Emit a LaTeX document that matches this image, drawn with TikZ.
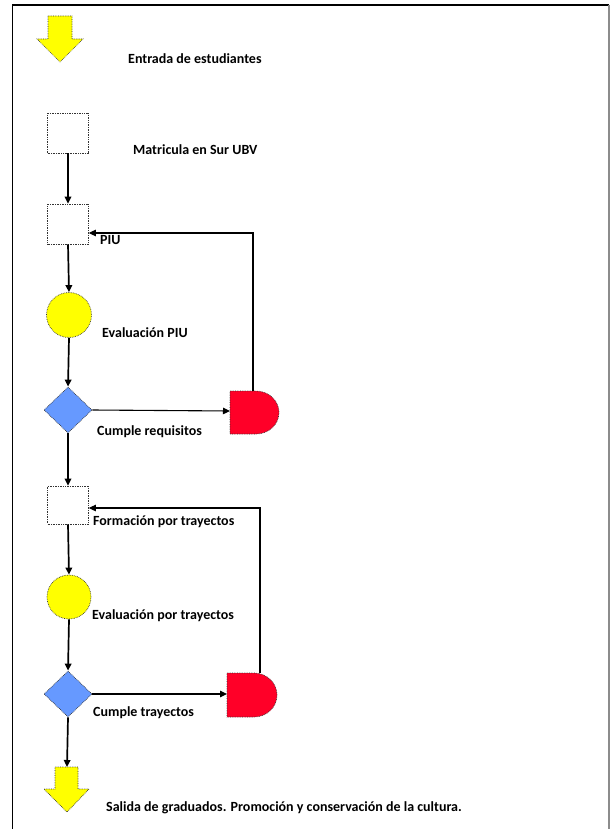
\documentclass[tikz,border=0pt]{standalone}
\usepackage{fontspec}
\setmainfont{Carlito}
\usetikzlibrary{arrows.meta,shapes.geometric}

\definecolor{flowyellow}{RGB}{255,255,0}
\definecolor{flowblue}{RGB}{102,153,255}
\definecolor{flowred}{RGB}{255,0,40}

\tikzset{
  outline/.style={draw=black!80, line width=0.7pt, densely dotted},
  stepbox/.style={outline, fill=white, minimum width=41pt, minimum height=40pt, inner sep=0pt},
  evalcircle/.style={outline, fill=flowyellow, circle, minimum size=45pt, inner sep=0pt},
  decision/.style={outline, fill=flowblue, diamond, minimum width=48pt, minimum height=46pt, inner sep=0pt},
  label/.style={anchor=west, inner sep=0pt, font=\fontsize{14}{16}\selectfont\bfseries},
  flow/.style={line width=1.7pt, -{Triangle[length=7pt,width=6.5pt]}},
  loop/.style={line width=1.1pt, -{Triangle[length=7pt,width=6.5pt]}},
}

\begin{document}
\begin{tikzpicture}[x=1pt, y=-1pt]
\useasboundingbox (0,0) rectangle (611,829);

% page frame, open at the bottom
\draw[black, line width=1.2pt] (12.5,829) -- (12.5,5) -- (609,5);
\draw[black!45, line width=1.5pt] (609,5) -- (609,829);

% entry arrow
\path[outline, fill=flowyellow] (48,16) -- (72,16) -- (72,39) -- (83,39) -- (60,62)
  -- (37,39) -- (48,39) -- cycle;
\node[label] (tentry) at (128,59) {Entrada de estudiantes};

% enrolment and initial programme
\node[stepbox] (s1) at (68,133) {};
\node[label] (t1) at (133,150) {Matricula en Sur UBV};
\node[stepbox] (s2) at (68,224) {};
\node[label] (t2) at (100,240) {PIU};
\node[evalcircle] (c1) at (69,315) {};
\node[label] (t3) at (102,333) {Evaluación PIU};
\node[decision] (d1) at (68,410) {};
\node[label] (t4) at (97,432) {Cumple requisitos};

% delay shape for the first loop
\path[outline, fill=flowred] (230,391) -- (256,391)
  arc[start angle=-90, end angle=90, x radius=23, y radius=21.5]
  -- (230,434) -- cycle;
\coordinate (r1) at (230,411);
\coordinate (r1top) at (253,391);

% training by trayectos
\node[stepbox, minimum height=38pt] (s3) at (68,505) {};
\node[label] (t5) at (93,522) {Formación por trayectos};
\node[evalcircle, minimum size=44pt] (c2) at (69,597) {};
\node[label] (t6) at (92,616) {Evaluación por trayectos};
\node[decision] (d2) at (68,694) {};
\node[label] (t7) at (93,713) {Cumple trayectos};

% delay shape for the second loop
\path[outline, fill=flowred] (227,673) -- (254,673)
  arc[start angle=-90, end angle=90, x radius=23, y radius=22]
  -- (227,717) -- cycle;
\coordinate (r2) at (227,694);
\coordinate (r2top) at (260,673);

% exit arrow
\path[outline, fill=flowyellow] (55,767) -- (78,767) -- (78,789) -- (89,789) -- (67,812)
  -- (44,789) -- (55,789) -- cycle;
\coordinate (exit) at (67,767);
\node[label] (texit) at (106,808) {Salida de graduados. Promoción y conservación de la cultura.};

% main flow
\draw[flow] (s1.south) -- (s2.north);
\draw[flow] (s2.south) -- (c1.north);
\draw[flow] (c1.south) -- (d1.north);
\draw[flow] (d1.south) -- (s3.north);
\draw[flow] (s3.south) -- (c2.north);
\draw[flow] (c2.south) -- (d2.north);
\draw[flow] (d2.south) -- (exit);

% rejection branches and loops back
\draw[loop] (d1.east) -- (r1);
\draw[loop] (r1top) |- (s2.east |- 0,233);
\draw[loop] (d2.east) -- (r2);
\draw[loop] (r2top) |- (s3.east |- 0,508);
\end{tikzpicture}
\end{document}
